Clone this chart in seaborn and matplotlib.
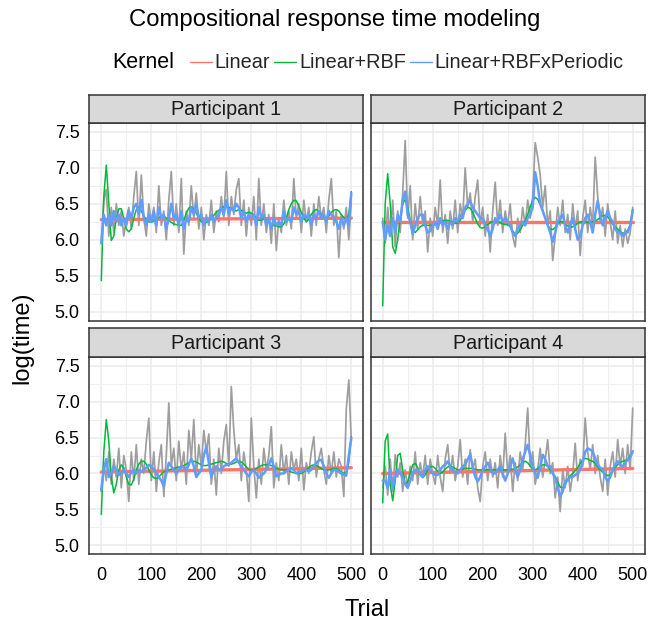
import matplotlib
matplotlib.use("Agg")
import matplotlib.pyplot as plt
from matplotlib.lines import Line2D
import pandas as pd
import seaborn as sns

# ---------------- data ----------------
trials = list(range(0, 501, 5))
linear_trials = [0, 500]
participants = ["Participant 1", "Participant 2", "Participant 3", "Participant 4"]
kernels = ["Linear", "Linear+RBF", "Linear+RBFxPeriodic"]
y_ticks = [5.0, 5.5, 6.0, 6.5, 7.0, 7.5]
x_ticks = [0, 100, 200, 300, 400, 500]

p1_raw = [5.95, 6.55, 6.70, 6.05, 6.45, 6.10, 6.50, 6.20, 6.40, 6.05,
          6.30, 6.45, 6.15, 6.60, 6.95, 6.20, 6.90, 6.30, 6.05, 6.50,
          6.25, 6.45, 6.10, 6.75, 6.20, 6.40, 6.00, 6.55, 6.95, 6.20,
          6.50, 6.10, 6.85, 5.80, 6.40, 6.20, 6.75, 6.30, 6.65, 6.15,
          6.45, 6.00, 6.35, 6.20, 6.55, 6.10, 6.40, 6.25, 6.60, 6.30,
          6.95, 6.20, 6.60, 6.35, 6.70, 6.85, 6.20, 6.55, 6.05, 6.45,
          6.20, 6.60, 6.00, 6.85, 6.20, 6.50, 6.10, 6.35, 5.95, 6.50,
          5.85, 6.30, 6.10, 6.55, 6.20, 6.40, 6.15, 6.85, 6.30, 6.50,
          6.10, 6.55, 6.25, 6.45, 6.05, 6.50, 6.20, 6.60, 6.30, 6.45,
          6.10, 6.55, 6.85, 6.20, 6.40, 5.75, 6.35, 6.15, 6.45, 6.00,
          6.55]
p1_linear = [6.28, 6.30]
p1_rbf = [5.43, 6.60, 7.04, 6.50, 5.99, 6.05, 6.30, 6.43, 6.43, 6.30,
          6.15, 6.11, 6.15, 6.30, 6.42, 6.45, 6.40, 6.33, 6.28, 6.25,
          6.24, 6.26, 6.28, 6.31, 6.33, 6.33, 6.30, 6.27, 6.24, 6.22,
          6.21, 6.20, 6.20, 6.27, 6.37, 6.44, 6.46, 6.43, 6.37, 6.30,
          6.25, 6.23, 6.24, 6.27, 6.30, 6.34, 6.38, 6.41, 6.44, 6.46,
          6.46, 6.45, 6.43, 6.41, 6.40, 6.42, 6.41, 6.38, 6.37, 6.38,
          6.37, 6.34, 6.30, 6.27, 6.27, 6.30, 6.27, 6.24, 6.22, 6.20,
          6.19, 6.18, 6.18, 6.22, 6.30, 6.42, 6.50, 6.55, 6.54, 6.47,
          6.38, 6.30, 6.25, 6.28, 6.35, 6.40, 6.42, 6.40, 6.35, 6.31,
          6.30, 6.33, 6.38, 6.41, 6.42, 6.40, 6.35, 6.31, 6.29, 6.35,
          6.67]
p1_periodic = [5.95, 6.35, 6.20, 6.35, 6.20, 6.40, 6.25, 6.35, 6.20, 6.30,
               6.20, 6.40, 6.30, 6.45, 6.50, 6.35, 6.55, 6.30, 6.20, 6.35,
               6.25, 6.40, 6.20, 6.45, 6.30, 6.35, 6.15, 6.30, 6.50, 6.30,
               6.35, 6.20, 6.40, 6.15, 6.30, 6.25, 6.45, 6.35, 6.50, 6.30,
               6.35, 6.20, 6.30, 6.25, 6.35, 6.25, 6.30, 6.35, 6.45, 6.35,
               6.55, 6.35, 6.45, 6.40, 6.50, 6.45, 6.30, 6.40, 6.25, 6.35,
               6.30, 6.35, 6.20, 6.45, 6.30, 6.35, 6.20, 6.30, 6.15, 6.30,
               6.20, 6.25, 6.20, 6.40, 6.25, 6.30, 6.25, 6.45, 6.35, 6.40,
               6.25, 6.35, 6.30, 6.35, 6.20, 6.35, 6.30, 6.40, 6.30, 6.35,
               6.25, 6.40, 6.35, 6.30, 6.25, 6.15, 6.30, 6.20, 6.30, 6.20,
               6.65]

p2_raw = [6.30, 5.95, 6.45, 6.05, 6.55, 5.90, 6.40, 6.10, 6.65, 7.38,
          6.30, 6.75, 6.00, 6.50, 6.15, 6.60, 6.20, 6.40, 5.83, 6.30,
          6.05, 6.45, 6.20, 6.83, 6.10, 6.35, 5.95, 6.40, 6.15, 6.55,
          6.10, 6.50, 6.30, 7.00, 6.45, 6.65, 6.25, 6.60, 6.83, 6.20,
          6.45, 6.05, 6.35, 5.83, 6.40, 6.80, 6.20, 6.55, 6.10, 6.40,
          6.20, 6.50, 6.05, 5.90, 6.30, 6.10, 6.45, 6.20, 6.55, 6.30,
          6.60, 7.35, 7.15, 6.90, 6.45, 6.75, 6.20, 6.40, 5.71, 6.05,
          6.45, 6.20, 6.55, 6.10, 6.35, 6.00, 6.50, 6.15, 6.40, 5.78,
          6.30, 6.55, 6.10, 6.45, 6.20, 7.15, 6.60, 6.25, 6.45, 6.05,
          6.50, 6.25, 6.00, 6.40, 5.95, 6.20, 5.90, 6.15, 5.95, 6.10,
          6.45]
p2_linear = [6.25, 6.25]
p2_rbf = [5.08, 6.50, 6.92, 6.50, 5.90, 5.81, 6.00, 6.30, 6.50, 6.56,
          6.45, 6.28, 6.13, 6.10, 6.14, 6.18, 6.20, 6.20, 6.20, 6.20,
          6.20, 6.21, 6.22, 6.24, 6.26, 6.27, 6.27, 6.26, 6.24, 6.23,
          6.23, 6.27, 6.34, 6.41, 6.45, 6.44, 6.38, 6.30, 6.22, 6.17,
          6.16, 6.18, 6.21, 6.24, 6.25, 6.25, 6.25, 6.24, 6.22, 6.21,
          6.21, 6.18, 6.12, 6.08, 6.09, 6.14, 6.20, 6.26, 6.35, 6.46,
          6.55, 6.59, 6.56, 6.49, 6.42, 6.30, 6.20, 6.15, 6.14, 6.17,
          6.22, 6.25, 6.25, 6.22, 6.19, 6.18, 6.18, 6.20, 6.23, 6.25,
          6.25, 6.25, 6.24, 6.24, 6.25, 6.26, 6.28, 6.31, 6.33, 6.34,
          6.32, 6.27, 6.22, 6.18, 6.15, 6.11, 6.09, 6.10, 6.13, 6.20,
          6.42]
p2_periodic = [6.25, 6.00, 6.20, 6.05, 6.30, 6.10, 6.35, 6.25, 6.55, 6.67,
               6.35, 6.25, 6.08, 6.20, 6.30, 6.35, 6.35, 6.20, 6.10, 6.12,
               6.20, 6.25, 6.15, 6.30, 6.20, 6.25, 6.15, 6.25, 6.20, 6.30,
               6.25, 6.35, 6.30, 6.45, 6.50, 6.54, 6.45, 6.40, 6.35, 6.30,
               6.30, 6.20, 6.15, 6.05, 6.15, 6.30, 6.25, 6.35, 6.25, 6.30,
               6.25, 6.20, 6.10, 6.05, 6.15, 6.20, 6.25, 6.20, 6.30, 6.35,
               6.45, 6.94, 6.75, 6.50, 6.40, 6.30, 6.20, 6.10, 5.97, 6.10,
               6.25, 6.30, 6.35, 6.20, 6.10, 6.20, 6.30, 6.15, 6.00, 6.05,
               6.20, 6.30, 6.35, 6.25, 6.10, 6.35, 6.54, 6.35, 6.20, 6.30,
               6.40, 6.30, 6.25, 6.15, 6.10, 6.10, 6.05, 6.10, 6.10, 6.20,
               6.40]

p3_raw = [5.75, 6.15, 5.90, 6.30, 5.85, 6.20, 5.95, 6.35, 5.80, 6.25,
          6.05, 5.61, 6.30, 5.90, 6.40, 5.85, 6.20, 6.00, 6.45, 6.77,
          5.90, 6.30, 5.75, 6.15, 6.40, 5.68, 6.25, 6.98, 6.10, 6.35,
          5.90, 6.45, 6.05, 6.30, 5.85, 6.60, 6.20, 6.75, 5.95, 6.40,
          6.10, 6.60, 6.30, 6.55, 5.85, 6.20, 5.70, 6.35, 6.00, 6.45,
          6.68, 6.10, 7.21, 6.60, 6.20, 6.40, 5.90, 6.30, 6.05, 5.61,
          6.77, 6.10, 5.66, 6.20, 5.85, 6.35, 6.05, 6.25, 6.65, 5.80,
          6.15, 5.90, 6.40, 6.00, 6.25, 5.85, 6.30, 6.05, 6.20, 5.90,
          6.35, 5.77, 6.15, 6.00, 6.30, 6.51, 5.95, 6.20, 6.35, 6.05,
          5.85, 6.25, 6.00, 6.30, 5.95, 6.20, 6.10, 5.68, 6.90, 7.30,
          6.45]
p3_linear = [6.02, 6.08]
p3_rbf = [5.43, 6.30, 6.75, 6.45, 5.95, 5.73, 5.85, 6.05, 6.12, 6.08,
          5.95, 5.85, 5.84, 5.92, 6.05, 6.13, 6.17, 6.17, 6.13, 6.05,
          5.98, 5.94, 5.93, 5.95, 5.99, 6.02, 6.04, 6.05, 6.06, 6.07,
          6.08, 6.09, 6.10, 6.11, 6.13, 6.15, 6.17, 6.17, 6.16, 6.14,
          6.12, 6.11, 6.11, 6.12, 6.13, 6.14, 6.15, 6.16, 6.17, 6.16,
          6.14, 6.13, 6.13, 6.14, 6.16, 6.17, 6.16, 6.13, 6.09, 6.06,
          6.05, 6.05, 6.07, 6.09, 6.11, 6.12, 6.12, 6.12, 6.11, 6.09,
          6.07, 6.06, 6.05, 6.05, 6.05, 6.04, 6.02, 6.01, 6.00, 6.00,
          6.00, 6.02, 6.05, 6.08, 6.11, 6.12, 6.11, 6.09, 6.07, 6.05,
          6.05, 6.05, 6.06, 6.07, 6.07, 6.05, 6.02, 6.00, 6.02, 6.15,
          6.51]
p3_periodic = [5.77, 6.05, 6.20, 5.95, 6.00, 6.10, 6.05, 5.98, 6.00, 6.05,
               6.00, 5.95, 6.02, 6.05, 6.00, 6.05, 6.02, 6.05, 6.08, 6.12,
               6.10, 6.05, 6.00, 5.95, 5.90, 5.82, 6.00, 6.15, 6.10, 6.05,
               6.00, 6.05, 6.10, 6.08, 6.05, 6.12, 6.21, 6.10, 5.95, 6.00,
               6.05, 6.25, 6.37, 6.15, 5.95, 6.05, 6.10, 6.05, 6.05, 6.10,
               6.12, 6.12, 6.15, 6.18, 6.21, 6.15, 6.10, 6.05, 6.00, 5.96,
               6.02, 6.05, 6.00, 5.94, 5.97, 6.00, 6.05, 6.12, 6.21, 6.10,
               5.96, 5.98, 6.00, 6.00, 6.03, 6.05, 6.07, 6.05, 6.00, 6.02,
               6.03, 6.05, 6.05, 6.03, 6.05, 6.10, 6.15, 6.18, 6.19, 6.10,
               6.00, 5.94, 6.00, 6.05, 6.05, 6.02, 6.00, 5.98, 5.97, 6.25,
               6.50]

p4_raw = [5.80, 6.10, 5.70, 6.20, 5.75, 6.26, 5.95, 6.15, 5.75, 6.05,
          5.80, 6.10, 5.90, 6.30, 5.85, 6.15, 5.95, 6.25, 5.85, 6.20,
          6.00, 5.85, 6.25, 5.95, 5.75, 6.20, 6.40, 6.00, 6.25, 5.90,
          6.10, 6.47, 5.95, 6.20, 5.85, 6.33, 6.05, 6.20, 5.80, 5.61,
          6.10, 6.30, 5.90, 6.20, 5.95, 6.15, 5.80, 6.25, 5.95, 6.56,
          6.00, 6.25, 5.75, 6.15, 5.90, 6.30, 6.05, 6.40, 6.91, 6.10,
          6.30, 5.85, 6.05, 6.35, 5.95, 6.20, 6.47, 6.00, 6.15, 5.66,
          5.95, 5.47, 6.05, 5.80, 6.10, 5.75, 6.00, 6.42, 5.90, 6.20,
          6.10, 6.77, 6.30, 6.05, 6.40, 6.00, 6.25, 5.95, 5.75, 6.20,
          5.70, 6.10, 6.30, 5.95, 6.47, 6.10, 6.35, 6.00, 6.40, 6.05,
          6.91]
p4_linear = [6.00, 6.07]
p4_rbf = [5.59, 6.45, 6.55, 5.85, 5.62, 5.90, 6.25, 6.28, 6.05, 5.85,
          5.88, 6.00, 6.12, 6.14, 6.08, 5.98, 5.94, 5.98, 6.05, 6.09,
          6.10, 6.07, 6.03, 6.00, 6.02, 6.06, 6.09, 6.10, 6.09, 6.07,
          6.05, 6.05, 6.06, 6.07, 6.07, 6.07, 6.07, 6.06, 6.05, 6.05,
          6.05, 6.05, 6.05, 6.05, 6.05, 6.05, 6.05, 6.05, 6.05, 6.05,
          6.05, 6.05, 6.06, 6.07, 6.09, 6.12, 6.15, 6.17, 6.15, 6.10,
          6.06, 6.05, 6.07, 6.10, 6.12, 6.12, 6.10, 6.05, 6.00, 5.96,
          5.88, 5.81, 5.80, 5.85, 5.92, 5.97, 6.00, 6.04, 6.08, 6.14,
          6.19, 6.21, 6.20, 6.18, 6.17, 6.14, 6.09, 6.05, 6.02, 5.99,
          5.97, 5.98, 6.03, 6.09, 6.12, 6.15, 6.17, 6.18, 6.20, 6.25,
          6.31]
p4_periodic = [5.90, 5.90, 5.80, 6.05, 5.80, 5.95, 6.05, 6.00, 5.95, 5.85,
               5.80, 5.90, 6.00, 6.05, 6.05, 6.00, 5.95, 6.05, 6.10, 6.05,
               6.00, 5.98, 5.98, 6.05, 6.10, 6.12, 6.17, 6.10, 6.05, 6.02,
               6.00, 6.05, 6.10, 6.12, 6.20, 6.26, 6.10, 5.95, 5.89, 5.95,
               6.05, 6.10, 6.15, 6.08, 6.00, 6.00, 6.05, 6.10, 6.00, 5.90,
               6.00, 6.10, 6.21, 6.05, 5.95, 6.05, 6.20, 6.30, 6.40, 6.25,
               6.10, 6.00, 5.94, 6.10, 6.26, 6.20, 6.10, 6.10, 6.00, 5.94,
               5.80, 5.68, 5.75, 5.89, 5.90, 5.95, 5.95, 5.98, 6.00, 6.05,
               6.15, 6.30, 6.35, 6.33, 6.31, 6.20, 6.12, 6.08, 6.05, 5.95,
               5.89, 5.95, 6.05, 6.12, 6.17, 6.12, 6.10, 6.15, 6.19, 6.22,
               6.31]

raw_series = [p1_raw, p2_raw, p3_raw, p4_raw]
linear_series = [p1_linear, p2_linear, p3_linear, p4_linear]
rbf_series = [p1_rbf, p2_rbf, p3_rbf, p4_rbf]
periodic_series = [p1_periodic, p2_periodic, p3_periodic, p4_periodic]

# ---------------- style ----------------
sns.set_theme(style="white")
plt.rcParams["font.family"] = ["Liberation Sans", "DejaVu Sans"]

palette = {"Linear": "#F8766D", "Linear+RBF": "#00BA38", "Linear+RBFxPeriodic": "#619CFF"}
widths = {"Linear": 2.4, "Linear+RBF": 1.1, "Linear+RBFxPeriodic": 1.8}
raw_color = "#9E9E9E"
border = "#333333"

W, H = 649, 626
fig = plt.figure(figsize=(W / 100, H / 100), dpi=100)


def px_axes(left, top, right, bottom):
    return fig.add_axes([left / W, 1 - bottom / H, (right - left) / W, (bottom - top) / H])


cols = [(89.3, 363.3), (370.7, 644.7)]
rows = [(123.0, 320.5), (356.7, 554.3)]
strip_h = 28.3

for i, name in enumerate(participants):
    r, c = divmod(i, 2)
    (l, rr), (t, b) = cols[c], rows[r]
    ax = px_axes(l, t, rr, b)
    sax = px_axes(l, t - strip_h, rr, t)

    raw_df = pd.DataFrame({"Trial": trials, "log(time)": raw_series[i]})
    sns.lineplot(data=raw_df, x="Trial", y="log(time)", ax=ax, color=raw_color,
                 linewidth=1.25, estimator=None, sort=False)
    fit_df = pd.concat([
        pd.DataFrame({"Trial": linear_trials, "log(time)": linear_series[i], "Kernel": "Linear"}),
        pd.DataFrame({"Trial": trials, "log(time)": rbf_series[i], "Kernel": "Linear+RBF"}),
        pd.DataFrame({"Trial": trials, "log(time)": periodic_series[i], "Kernel": "Linear+RBFxPeriodic"}),
    ])
    for k in kernels:
        sns.lineplot(data=fit_df[fit_df["Kernel"] == k], x="Trial", y="log(time)", ax=ax,
                     color=palette[k], linewidth=widths[k], estimator=None, legend=False)

    ax.set_xlim(-24, 524)
    ax.set_ylim(4.875, 7.625)
    ax.set_xticks(x_ticks)
    ax.set_xticks([50, 150, 250, 350, 450], minor=True)
    ax.set_yticks(y_ticks)
    ax.set_yticks([5.25, 5.75, 6.25, 6.75, 7.25], minor=True)
    ax.grid(which="major", color="#EBEBEB", linewidth=1.1)
    ax.grid(which="minor", color="#EFEFEF", linewidth=0.7)
    ax.set_axisbelow(True)
    ax.set_xlabel("")
    ax.set_ylabel("")
    for s in ax.spines.values():
        s.set_color(border)
        s.set_linewidth(1.1)
    ax.tick_params(which="minor", length=0)
    ax.tick_params(which="major", length=4, width=1, color=border, labelsize=13,
                   labelcolor="black", pad=3)
    ax.tick_params(axis="x", pad=5)
    if c == 0:
        ax.set_yticklabels([f"{v:.1f}" for v in y_ticks])
    else:
        ax.tick_params(axis="y", left=False, labelleft=False)
    if r == 1:
        ax.set_xticklabels([str(v) for v in x_ticks])
    else:
        ax.tick_params(axis="x", bottom=False, labelbottom=False)

    sax.set_facecolor("#D9D9D9")
    sax.set_xticks([])
    sax.set_yticks([])
    for s in sax.spines.values():
        s.set_color(border)
        s.set_linewidth(1.1)
    sax.text(0.5, 0.48, name, ha="center", va="center", fontsize=14.2,
             color="#1A1A1A", transform=sax.transAxes)

fig.text(334.5 / W, 1 - 20 / H, "Compositional response time modeling",
         ha="center", va="center", fontsize=17.2, color="black")
fig.text(22 / W, 1 - 338 / H, "log(time)", rotation=90, ha="center", va="center",
         fontsize=17, color="black")
fig.text(367 / W, 1 - 610 / H, "Trial", ha="center", va="center", fontsize=17, color="black")

fig.text(112 / W, 1 - 63 / H, "Kernel", ha="left", va="center", fontsize=15.5, color="black")
handles = [Line2D([0], [0], color=palette[k], linewidth=1.0) for k in kernels]
fig.legend(handles, kernels, loc="center left", bbox_to_anchor=(190 / W, 1 - 63 / H),
           ncol=3, frameon=False, fontsize=14.3, handlelength=1.1, handletextpad=0.15,
           columnspacing=0.2, borderaxespad=0, borderpad=0)

fig.savefig("out.png", dpi=100)
